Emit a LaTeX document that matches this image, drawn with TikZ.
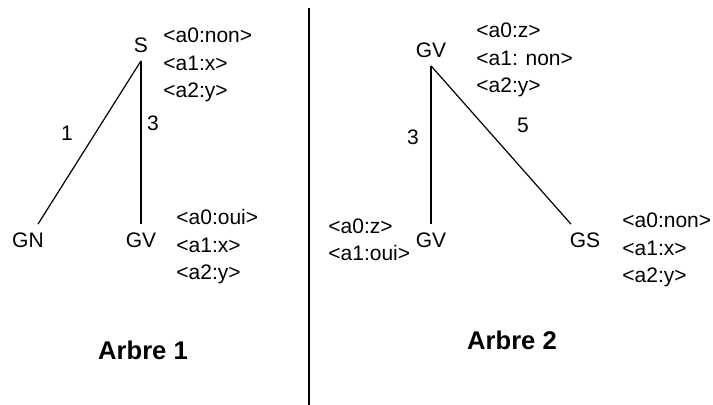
\documentclass[tikz,border=0pt]{standalone}
\usepackage{fontspec}
\setmainfont{Liberation Sans}
\usetikzlibrary{positioning}

\begin{document}
\begin{tikzpicture}[x=0.5pt, y=-0.5pt,
    cat/.style={font=\fontsize{10.5}{13}\selectfont, inner sep=4pt},
    attr/.style={font=\fontsize{10.5}{13.75}\selectfont, align=left, anchor=west, inner sep=0pt},
    weight/.style={font=\fontsize{10.5}{13}\selectfont, inner sep=0pt},
    title/.style={font=\fontsize{12.8}{15}\selectfont\bfseries, inner sep=0pt},
    branch/.style={line width=0.6pt},
]
\useasboundingbox (0,0) rectangle (713,405);

% Arbre 1
\node[cat] (s)   at (141,45)  {S};
\node[cat] (gn)  at (28,240)  {GN};
\node[cat] (gv1) at (141,240) {GV};

\node[attr] (s-attr)   at (163,65)  {<a0:non>\\<a1:x>\\<a2:y>};
\node[attr] (gv1-attr) at (176,247) {<a0:oui>\\<a1:x>\\<a2:y>};

\draw[branch] (s.south) -- (gn);
\draw[branch] (s.south) -- (gv1.north);
\node[weight] (w1) at (67,133)  {1};
\node[weight] (w3) at (153,123) {3};

\node[title] (arbre1) at (143,350) {Arbre 1};

% separation
\coordinate (sep-top) at (309,8);
\coordinate (sep-bot) at (309,405);
\draw[branch] (sep-top) -- (sep-bot);

% Arbre 2
\node[cat] (gv2) at (431,50)  {GV};
\node[cat] (gv3) at (431,240) {GV};
\node[cat] (gs)  at (585,240) {GS};

\node[attr] (gv2-attr) at (476,60)  {<a0:z>\\<a1: non>\\<a2:y>};
\node[attr] (gv3-attr) at (328,240) {<a0:z>\\<a1:oui>};
\node[attr] (gs-attr)  at (622,250) {<a0:non>\\<a1:x>\\<a2:y>};

\draw[branch] (gv2.south) -- (gv3.north);
\draw[branch] (gv2.south) -- (gs);
\node[weight] (w3b) at (413,137) {3};
\node[weight] (w5)  at (523,125) {5};

\node[title] (arbre2) at (512,340) {Arbre 2};
\end{tikzpicture}
\end{document}
